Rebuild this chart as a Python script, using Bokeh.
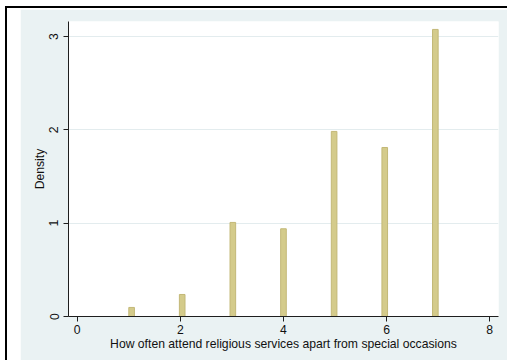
from bokeh.plotting import figure
from bokeh.models import FixedTicker
from bokeh.layouts import column
from bokeh.embed import file_html
from bokeh.resources import INLINE

# Histogram bins (centre of each occupied bin) and their densities
bin_centers = [1.055, 2.036, 3.018, 4.000, 4.982, 5.964, 6.945]
density = [0.097, 0.236, 1.008, 0.940, 1.983, 1.811, 3.076]
bin_width = 0.109

x_ticks = [0, 2, 4, 6, 8]
y_ticks = [0, 1, 2, 3]
x_title = "How often attend religious services apart from special occasions"
y_title = "Density"

REGION = "#eaf2f3"
FONT = "Liberation Sans"
FSIZE = "12.2px"

p = figure(
    width=487, height=351,
    x_range=(-0.169, 8.17), y_range=(0, 3.161),
    output_backend="svg", toolbar_location=None,
    min_border_left=48, min_border_right=9, min_border_top=12, min_border_bottom=44,
    border_fill_color=REGION, background_fill_color="white",
    outline_line_color=None,
    margin=(1, 0, 0, 13),
)

p.vbar(x=bin_centers, top=density, bottom=0, width=bin_width,
       fill_color="#d4cb8b", line_color="#c3b877", line_width=1)

for ax in (p.xaxis[0], p.yaxis[0]):
    ax.axis_line_color = "#1e1e1e"
    ax.axis_line_width = 1
    ax.major_tick_line_color = "#1e1e1e"
    ax.major_tick_in = 0
    ax.major_tick_out = 5
    ax.minor_tick_line_color = None
    ax.major_label_text_font = FONT
    ax.major_label_text_font_size = FSIZE
    ax.major_label_text_color = "#111111"
    ax.axis_label_text_font = FONT
    ax.axis_label_text_font_size = FSIZE
    ax.axis_label_text_font_style = "normal"
    ax.axis_label_text_color = "#111111"

p.xaxis.ticker = FixedTicker(ticks=x_ticks)
p.yaxis.ticker = FixedTicker(ticks=y_ticks)
p.xaxis.axis_label = x_title
p.yaxis.axis_label = y_title
p.xaxis.major_label_standoff = 3
p.xaxis.axis_label_standoff = 0
p.yaxis.major_label_orientation = "vertical"
p.yaxis.major_label_standoff = 5
p.yaxis.axis_label_standoff = 0

p.xgrid.visible = False
p.ygrid.ticker = FixedTicker(ticks=y_ticks)
p.ygrid.grid_line_color = "#e3ecee"
p.ygrid.grid_line_width = 1

page = column(p, styles={
    "border-top": "2px solid black",
    "border-left": "2px solid black",
    "margin-top": "6px",
    "margin-left": "5px",
})

open("out.html", "w").write(file_html(page, INLINE))
